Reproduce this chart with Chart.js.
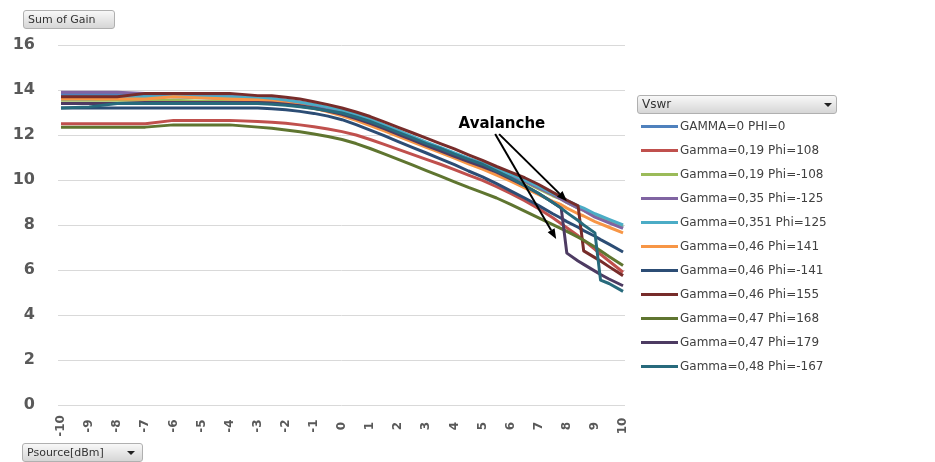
<!DOCTYPE html>
<html>
<head>
<meta charset="utf-8">
<script src="https://cdn.jsdelivr.net/npm/chart.js@4.4.1/dist/chart.umd.min.js"></script>
<style>
  html,body{margin:0;padding:0;background:#fff;}
  body{width:935px;height:462px;position:relative;overflow:hidden;font-family:"DejaVu Sans",sans-serif;}
  #c{position:absolute;left:0;top:0;}
  .btn{position:absolute;box-sizing:border-box;height:19px;border:1px solid #b0b0b0;border-radius:3px;
       background:linear-gradient(#f8f8f8,#d6d6d6);font-size:11px;color:#333;line-height:17px;padding-left:4px;}
  .tri{position:absolute;top:7px;width:0;height:0;border-left:4px solid transparent;border-right:4px solid transparent;border-top:4px solid #222;}
  .item{position:absolute;left:637px;height:14px;white-space:nowrap;font-size:12px;color:#404040;line-height:14px;}
  .item i{position:absolute;left:4px;top:6px;width:37px;height:3px;}
  .item span{position:absolute;left:43px;top:0;}
</style>
</head>
<body>
<canvas id="c" width="935" height="462"></canvas>
<div class="btn" style="left:23px;top:10px;width:92px;">Sum of Gain</div>
<div class="btn" style="left:637px;top:95px;width:200px;font-size:12px;">Vswr<span class="tri" style="left:186px;"></span></div>
<div class="btn" style="left:22px;top:443px;width:121px;">Psource[dBm]<span class="tri" style="left:104px;"></span></div>
<div id="legend"></div>
<script>
// Psource [dBm] sample points
const psource = [-10,-9,-8,-7,-6,-5,-4,-3, -2.5,-2,-1.5,-1,-0.5,
  0,0.5,1,1.5,2,2.5,3,3.5,4,4.5,5,5.5,6,6.5,7,7.5, 7.8,8,8.4,8.6,9,9.2,9.5,10];
const xTicks = [-10,-9,-8,-7,-6,-5,-4,-3,-2,-1,0,1,2,3,4,5,6,7,8,9,10];
const yTicks = [0,2,4,6,8,10,12,14,16];

// gain per load condition (dB)
const gamma0    = [13.8,13.8,13.8,13.75,13.7,13.65,13.62,13.58, 13.52,13.46,13.38,13.28,13.16,
  13.02,12.84,12.63,12.4,12.15,11.9,11.65,11.42,11.18,10.95,10.7,10.45,10.2,9.95,9.65,9.35, 9.2,9.05,8.8,8.7,8.45,8.35,8.2,7.9];
const g019p108  = [12.5,12.5,12.5,12.5,12.65,12.65,12.65,12.6, 12.57,12.52,12.45,12.37,12.27,
  12.15,12.0,11.8,11.58,11.36,11.14,10.92,10.7,10.46,10.22,9.98,9.7,9.4,9.08,8.72,8.32, 8.06,7.88,7.52,7.32,6.92,6.7,6.4,5.9];
const g019pm108 = [13.55,13.55,13.55,13.55,13.55,13.5,13.5,13.47, 13.42,13.36,13.28,13.18,13.07,
  12.95,12.77,12.57,12.33,12.08,11.83,11.58,11.36,11.12,10.9,10.65,10.4,10.15,9.9,9.6,9.3, 9.15,9.0,8.75,8.65,8.4,8.3,8.15,7.95];
const g035pm125 = [13.9,13.9,13.9,13.85,13.8,13.75,13.72,13.67, 13.61,13.54,13.46,13.35,13.22,
  13.07,12.88,12.65,12.4,12.14,11.88,11.63,11.4,11.16,10.94,10.72,10.45,10.2,9.95,9.65,9.35, 9.15,9.0,8.75,8.65,8.35,8.25,8.1,7.85];
const g0351p125 = [13.6,13.6,13.65,13.7,13.7,13.7,13.7,13.67, 13.62,13.55,13.46,13.36,13.24,
  13.1,12.92,12.7,12.45,12.2,11.94,11.68,11.45,11.2,10.96,10.75,10.5,10.25,10.0,9.7,9.4, 9.25,9.1,8.85,8.75,8.5,8.4,8.25,8.0];
const g046p141  = [13.6,13.6,13.6,13.6,13.7,13.65,13.6,13.56, 13.5,13.42,13.32,13.2,13.03,
  12.85,12.65,12.42,12.18,11.94,11.7,11.45,11.22,10.97,10.72,10.48,10.22,9.95,9.65,9.35,9.05, 8.9,8.75,8.5,8.4,8.15,8.05,7.9,7.65];
const g046pm141 = [13.2,13.2,13.2,13.2,13.2,13.2,13.2,13.2, 13.17,13.12,13.05,12.96,12.84,
  12.68,12.46,12.22,11.97,11.71,11.45,11.2,10.94,10.68,10.4,10.14,9.84,9.52,9.2,8.86,8.5, 8.3,8.15,7.9,7.75,7.5,7.35,7.15,6.8];
const g046p155  = [13.7,13.7,13.7,13.85,13.85,13.85,13.85,13.75, 13.74,13.68,13.6,13.48,13.35,
  13.2,13.02,12.82,12.58,12.34,12.1,11.86,11.62,11.38,11.12,10.87,10.6,10.35,10.1,9.8,9.45, 9.25,9.1,8.85,6.85,6.55,6.4,6.15,5.75];
const g047p168  = [12.35,12.35,12.35,12.35,12.45,12.45,12.45,12.35, 12.3,12.22,12.14,12.04,11.93,
  11.8,11.62,11.4,11.16,10.92,10.67,10.42,10.17,9.92,9.67,9.44,9.2,8.92,8.62,8.32,8.02, 7.84,7.72,7.46,7.32,7.02,6.86,6.6,6.2];
const g047p179  = [13.4,13.4,13.4,13.45,13.45,13.45,13.45,13.45, 13.42,13.37,13.3,13.2,13.07,
  12.92,12.73,12.52,12.28,12.03,11.78,11.53,11.3,11.05,10.82,10.6,10.35,10.05,9.75,9.4,9.0, 8.75,6.75,6.4,6.25,5.95,5.8,5.6,5.3];
const g048pm167 = [13.2,13.25,13.4,13.4,13.4,13.4,13.4,13.4, 13.37,13.32,13.26,13.18,13.08,
  12.98,12.8,12.6,12.36,12.12,11.87,11.62,11.4,11.15,10.92,10.7,10.4,10.1,9.75,9.4,9.0, 8.75,8.55,8.2,8.0,7.65,5.55,5.4,5.05];

const seriesNames = ['GAMMA=0 PHI=0','Gamma=0,19 Phi=108','Gamma=0,19 Phi=-108','Gamma=0,35 Phi=-125','Gamma=0,351 Phi=125',
  'Gamma=0,46 Phi=141','Gamma=0,46 Phi=-141','Gamma=0,46 Phi=155','Gamma=0,47 Phi=168','Gamma=0,47 Phi=179','Gamma=0,48 Phi=-167'];
const seriesValues = [gamma0,g019p108,g019pm108,g035pm125,g0351p125,g046p141,g046pm141,g046p155,g047p168,g047p179,g048pm167];
const seriesColors = ['#4F81BD','#C0504D','#9BBB59','#8064A2','#4BACC6','#F79646','#2C4D75','#772C2A','#5F7530','#4D3B62','#276A7C'];

// annotation, in data units
const noteText = 'Avalanche';
const notePos = [5.69, 12.49];
const arrows = [[[5.45,12.04],[7.62,7.38]], [[5.59,12.04],[8.0,9.07]]];

// legend (html)
const leg = document.getElementById('legend');
seriesNames.forEach((n,i)=>{
  const d = document.createElement('div');
  d.className = 'item';
  d.style.top = (118.7 + i*24.05).toFixed(1) + 'px';
  d.innerHTML = `<i style="background:${seriesColors[i]}"></i><span>${n}</span>`;
  leg.appendChild(d);
});

const overlay = {
  id:'overlay',
  afterDraw(chart){
    const {ctx, scales:{x,y}} = chart;
    ctx.save();
    // rotated x labels, centred like Excel does
    ctx.fillStyle = '#595959';
    ctx.font = 'bold 12px "DejaVu Sans"';
    ctx.textAlign = 'center'; ctx.textBaseline = 'middle';
    xTicks.forEach(v=>{
      ctx.save();
      ctx.translate(x.getPixelForValue(v), y.bottom + 21);
      ctx.rotate(-Math.PI/2);
      ctx.fillText(String(v), 0, 0);
      ctx.restore();
    });
    // Avalanche note + arrows
    ctx.fillStyle = '#000';
    ctx.font = 'bold 15px "DejaVu Sans"';
    ctx.fillText(noteText, x.getPixelForValue(notePos[0]), y.getPixelForValue(notePos[1]));
    ctx.strokeStyle = '#000'; ctx.lineWidth = 2;
    arrows.forEach(([a,b])=>{
      const x0 = x.getPixelForValue(a[0]), y0 = y.getPixelForValue(a[1]);
      const x1 = x.getPixelForValue(b[0]), y1 = y.getPixelForValue(b[1]);
      const ang = Math.atan2(y1-y0, x1-x0), hl = 10, hw = 4;
      const bx = x1 - hl*Math.cos(ang), by = y1 - hl*Math.sin(ang);
      ctx.beginPath(); ctx.moveTo(x0,y0); ctx.lineTo(bx,by); ctx.stroke();
      ctx.beginPath();
      ctx.moveTo(x1,y1);
      ctx.lineTo(bx + hw*Math.sin(ang), by - hw*Math.cos(ang));
      ctx.lineTo(bx - hw*Math.sin(ang), by + hw*Math.cos(ang));
      ctx.closePath(); ctx.fill();
    });
    ctx.restore();
  }
};

new Chart(document.getElementById('c'), {
  type:'line',
  data:{
    datasets: seriesNames.map((name,i)=>({
      label:name,
      data: psource.map((p,j)=>({x:p, y:seriesValues[i][j]})),
      borderColor: seriesColors[i],
      borderWidth: 3,
      pointRadius: 0,
      tension: 0,
      fill: false,
      borderJoinStyle: 'round',
      order: seriesNames.length - i
    }))
  },
  options:{
    responsive:false,
    animation:false,
    layout:{ padding:{ top:45, right:310, left:0, bottom:0 } },
    plugins:{ legend:{display:false}, tooltip:{enabled:false} },
    scales:{
      x:{
        type:'linear', min:-10.107, max:10.07,
        afterFit(s){ s.height = 57; },
        ticks:{ display:false },
        grid:{ display:false },
        border:{ display:false }
      },
      y:{
        min:0, max:16,
        afterFit(s){ s.width = 58; },
        afterBuildTicks(s){ s.ticks = yTicks.map(v=>({value:v})); },
        ticks:{ color:'#595959', padding:23, font:{ family:'"DejaVu Sans"', size:16, weight:'bold' } },
        grid:{ color:'#d9d9d9', drawTicks:false },
        border:{ display:false }
      }
    }
  },
  plugins:[overlay]
});
</script>
</body>
</html>
